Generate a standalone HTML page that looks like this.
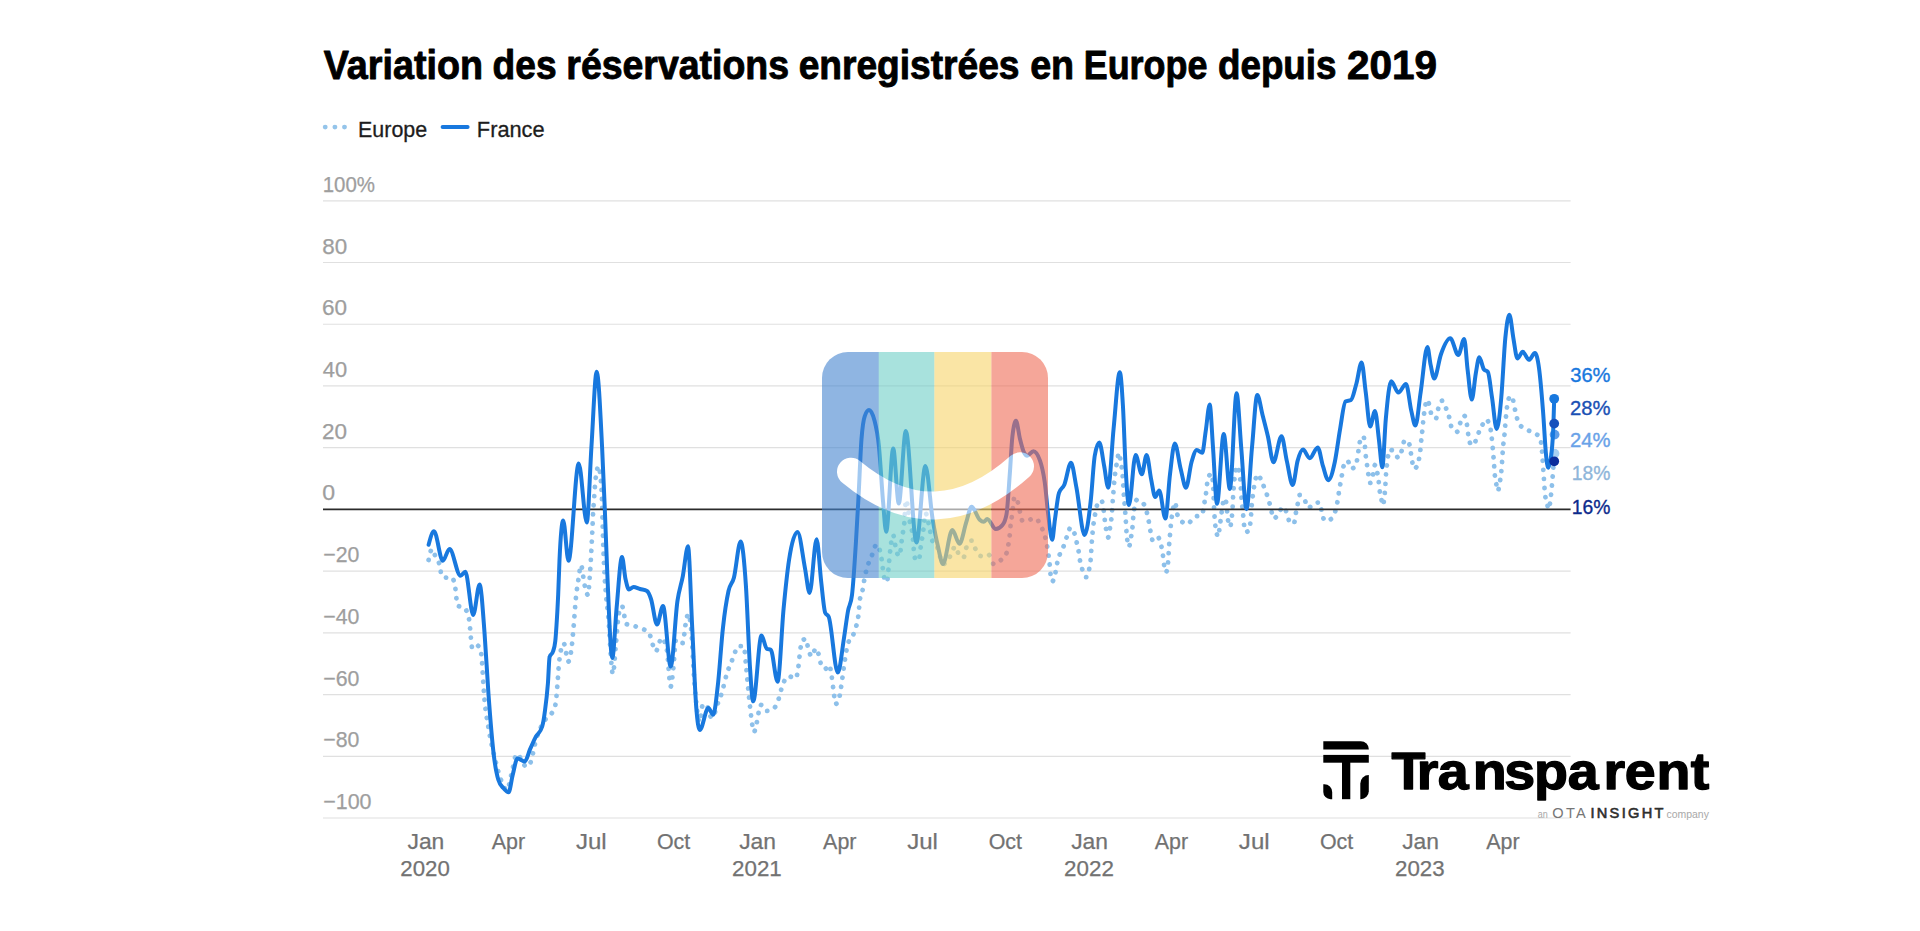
<!DOCTYPE html>
<html lang="fr">
<head>
<meta charset="utf-8">
<title>Variation des réservations enregistrées en Europe depuis 2019</title>
<style>
html,body{margin:0;padding:0;background:#fff;}
body{width:1920px;height:931px;overflow:hidden;font-family:"Liberation Sans", Arial, sans-serif;}
svg{display:block;}
text{font-family:"Liberation Sans", Arial, sans-serif;}
.title{font-weight:700;font-size:40.3px;fill:#000;}
.leg{font-size:22px;fill:#1d1d1d;stroke:#1d1d1d;stroke-width:0.3px;}
.yl{font-size:22px;fill:#9e9e9e;stroke:#9e9e9e;stroke-width:0.25px;}
.xl{font-size:21.8px;fill:#727272;stroke:#727272;stroke-width:0.25px;}
.el{font-size:20px;}
.lg{font-size:51px;font-weight:700;fill:#000;}
</style>
</head>
<body>
<svg width="1920" height="931" viewBox="0 0 1920 931">
<rect width="1920" height="931" fill="#ffffff"/>
<text y="78.5" class="title" stroke="#000" stroke-width="0.9" stroke-linejoin="round"><tspan x="323.76" textLength="159.20" lengthAdjust="spacingAndGlyphs">Variation</tspan> <tspan x="492.56" textLength="63.99" lengthAdjust="spacingAndGlyphs">des</tspan> <tspan x="566.32" textLength="222.74" lengthAdjust="spacingAndGlyphs">réservations</tspan> <tspan x="798.66" textLength="220.88" lengthAdjust="spacingAndGlyphs">enregistrées</tspan> <tspan x="1030.14" textLength="44.05" lengthAdjust="spacingAndGlyphs">en</tspan> <tspan x="1083.72" textLength="123.69" lengthAdjust="spacingAndGlyphs">Europe</tspan> <tspan x="1217.98" textLength="118.54" lengthAdjust="spacingAndGlyphs">depuis</tspan> <tspan x="1347.03" textLength="90.12" lengthAdjust="spacingAndGlyphs">2019</tspan></text>

<!-- legend -->
<g>
<circle cx="325.2" cy="127.1" r="2.45" fill="#94c4ea"/>
<circle cx="334.9" cy="127.1" r="2.45" fill="#94c4ea"/>
<circle cx="344.5" cy="127.1" r="2.45" fill="#94c4ea"/>
<text x="358.09" y="136.80" class="leg" textLength="69.07" lengthAdjust="spacingAndGlyphs">Europe</text>
<line x1="442.6" x2="467.6" y1="127.1" y2="127.1" stroke="#1878de" stroke-width="4" stroke-linecap="round"/>
<text x="476.86" y="136.80" class="leg" textLength="67.77" lengthAdjust="spacingAndGlyphs">France</text>
</g>

<!-- grid -->
<g>
<line x1="323" x2="1570.6" y1="200.80" y2="200.80" stroke="#e0e0e0" stroke-width="1.2"/>
<line x1="323" x2="1570.6" y1="262.52" y2="262.52" stroke="#e0e0e0" stroke-width="1.2"/>
<line x1="323" x2="1570.6" y1="324.24" y2="324.24" stroke="#e0e0e0" stroke-width="1.2"/>
<line x1="323" x2="1570.6" y1="385.96" y2="385.96" stroke="#e0e0e0" stroke-width="1.2"/>
<line x1="323" x2="1570.6" y1="447.68" y2="447.68" stroke="#e0e0e0" stroke-width="1.2"/>
<line x1="323" x2="1570.6" y1="571.12" y2="571.12" stroke="#e0e0e0" stroke-width="1.2"/>
<line x1="323" x2="1570.6" y1="632.84" y2="632.84" stroke="#e0e0e0" stroke-width="1.2"/>
<line x1="323" x2="1570.6" y1="694.56" y2="694.56" stroke="#e0e0e0" stroke-width="1.2"/>
<line x1="323" x2="1570.6" y1="756.28" y2="756.28" stroke="#e0e0e0" stroke-width="1.2"/>
<line x1="323" x2="1570.6" y1="818.00" y2="818.00" stroke="#e0e0e0" stroke-width="1.2"/>
</g>
<g>
<text x="322.67" y="191.80" class="yl" textLength="52.30" lengthAdjust="spacingAndGlyphs">100%</text>
<text x="322.19" y="253.52" class="yl" textLength="24.95" lengthAdjust="spacingAndGlyphs">80</text>
<text x="322.07" y="315.24" class="yl" textLength="25.07" lengthAdjust="spacingAndGlyphs">60</text>
<text x="322.76" y="376.96" class="yl" textLength="24.36" lengthAdjust="spacingAndGlyphs">40</text>
<text x="322.07" y="438.68" class="yl" textLength="25.07" lengthAdjust="spacingAndGlyphs">20</text>
<text x="322.27" y="500.40" class="yl" textLength="12.86" lengthAdjust="spacingAndGlyphs">0</text>
<text x="323.23" y="562.12" class="yl" textLength="36.14" lengthAdjust="spacingAndGlyphs">−20</text>
<text x="323.23" y="623.84" class="yl" textLength="36.14" lengthAdjust="spacingAndGlyphs">−40</text>
<text x="323.23" y="685.56" class="yl" textLength="36.14" lengthAdjust="spacingAndGlyphs">−60</text>
<text x="323.23" y="747.28" class="yl" textLength="36.14" lengthAdjust="spacingAndGlyphs">−80</text>
<text x="323.23" y="809.00" class="yl" textLength="48.33" lengthAdjust="spacingAndGlyphs">−100</text>
</g>
<g>
<text x="407.46" y="848.80" class="xl" textLength="36.88" lengthAdjust="spacingAndGlyphs">Jan</text>
<text x="400.39" y="875.80" class="xl" textLength="49.48" lengthAdjust="spacingAndGlyphs">2020</text>
<text x="491.70" y="848.80" class="xl" textLength="33.35" lengthAdjust="spacingAndGlyphs">Apr</text>
<text x="575.96" y="848.80" class="xl" textLength="30.76" lengthAdjust="spacingAndGlyphs">Jul</text>
<text x="656.91" y="848.80" class="xl" textLength="33.33" lengthAdjust="spacingAndGlyphs">Oct</text>
<text x="739.16" y="848.80" class="xl" textLength="36.88" lengthAdjust="spacingAndGlyphs">Jan</text>
<text x="732.08" y="875.80" class="xl" textLength="49.72" lengthAdjust="spacingAndGlyphs">2021</text>
<text x="823.10" y="848.80" class="xl" textLength="33.35" lengthAdjust="spacingAndGlyphs">Apr</text>
<text x="907.16" y="848.80" class="xl" textLength="30.76" lengthAdjust="spacingAndGlyphs">Jul</text>
<text x="988.66" y="848.80" class="xl" textLength="33.33" lengthAdjust="spacingAndGlyphs">Oct</text>
<text x="1071.16" y="848.80" class="xl" textLength="36.88" lengthAdjust="spacingAndGlyphs">Jan</text>
<text x="1064.08" y="875.80" class="xl" textLength="49.83" lengthAdjust="spacingAndGlyphs">2022</text>
<text x="1154.75" y="848.80" class="xl" textLength="33.35" lengthAdjust="spacingAndGlyphs">Apr</text>
<text x="1238.86" y="848.80" class="xl" textLength="30.76" lengthAdjust="spacingAndGlyphs">Jul</text>
<text x="1319.91" y="848.80" class="xl" textLength="33.33" lengthAdjust="spacingAndGlyphs">Oct</text>
<text x="1402.16" y="848.80" class="xl" textLength="36.88" lengthAdjust="spacingAndGlyphs">Jan</text>
<text x="1395.09" y="875.80" class="xl" textLength="49.60" lengthAdjust="spacingAndGlyphs">2023</text>
<text x="1486.30" y="848.80" class="xl" textLength="33.35" lengthAdjust="spacingAndGlyphs">Apr</text>
</g>

<!-- series -->
<path d="M428.6,560.0C429.7,554.5,430.9,549.0,432.0,549.0C433.3,549.0,434.7,555.2,436.0,558.0C437.3,560.8,438.7,560.7,440.0,566.0C440.5,568.0,441.0,575.7,441.5,576.0C443.3,577.1,445.2,577.7,447.0,577.7C448.6,577.7,450.1,577.5,451.7,577.5C452.8,577.5,453.9,580.3,455.0,586.0C455.9,590.5,456.7,605.0,457.6,605.6C459.8,607.2,462.1,606.4,464.3,608.0C465.9,609.1,467.4,611.7,469.0,619.0C470.1,624.3,471.3,648.6,472.4,648.6C474.0,648.6,475.6,645.4,477.2,645.4C478.5,645.4,479.7,647.8,481.0,652.7C482.2,657.2,483.3,687.5,484.5,699.7C485.8,713.7,487.2,719.8,488.5,728.0C490.7,741.4,492.8,749.9,495.0,758.8C497.0,767.0,499.0,774.8,501.0,780.0C503.0,785.2,505.0,790.0,507.0,790.0C508.4,790.0,509.9,780.3,511.3,775.0C513.1,768.4,514.9,754.0,516.7,754.0C520.0,754.0,523.3,766.8,526.6,766.8C528.2,766.8,529.9,764.5,531.5,760.0C532.3,757.7,533.2,751.7,534.0,748.0C538.0,730.4,542.0,724.9,546.0,718.5C548.5,714.5,551.0,715.8,553.5,710.4C554.3,708.6,555.2,707.3,556.0,701.0C556.5,697.2,557.0,689.8,557.5,683.5C558.0,677.2,558.5,668.6,559.0,663.4C559.4,659.3,559.8,656.4,560.2,654.0C561.4,646.9,562.5,643.3,563.7,643.3C565.2,643.3,566.8,661.5,568.3,661.5C569.5,661.5,570.6,655.9,571.8,646.0C572.4,640.9,573.0,633.9,573.6,627.0C574.3,618.5,575.1,606.6,575.8,599.0C576.7,589.7,577.6,584.6,578.5,578.8C579.3,573.4,580.2,565.0,581.0,565.0C582.1,565.0,583.3,579.1,584.4,584.0C585.6,589.2,586.8,595.0,588.0,595.0C588.6,595.0,589.2,584.1,589.8,576.0C590.7,564.2,591.5,548.6,592.4,529.4C592.7,523.5,592.9,515.4,593.2,510.6C593.5,505.8,593.7,504.5,594.0,500.6C594.2,497.7,594.4,493.9,594.6,491.0C594.9,487.1,595.1,483.8,595.4,481.0C595.8,476.5,596.3,474.0,596.7,471.6C597.3,468.1,598.0,466.2,598.6,466.2C599.2,466.2,599.9,470.7,600.5,477.0C600.8,479.7,601.0,481.9,601.3,486.4C601.6,490.9,601.8,495.1,602.1,503.8C602.3,509.2,602.4,517.4,602.6,523.5C602.9,534.5,603.2,544.0,603.5,552.2C603.9,564.0,604.4,571.7,604.8,579.0C605.2,585.7,605.6,590.3,606.0,595.0C606.7,602.9,607.3,606.9,608.0,613.7C609.6,630.4,611.3,674.0,612.9,674.0C613.9,674.0,615.0,653.6,616.0,643.0C616.9,633.4,617.9,618.2,618.8,613.7C619.9,608.6,620.9,606.0,622.0,606.0C623.4,606.0,624.9,623.3,626.3,624.0C628.7,625.2,631.1,625.1,633.5,625.8C636.2,626.6,638.9,627.2,641.6,628.5C644.0,629.7,646.5,630.0,648.9,633.0C651.2,635.8,653.5,651.3,655.8,651.3C657.8,651.3,659.7,638.0,661.7,638.0C663.4,638.0,665.0,641.7,666.7,649.0C668.0,654.9,669.4,686.5,670.7,686.5C671.6,686.5,672.5,675.7,673.4,667.7C674.3,660.0,675.1,639.5,676.0,639.5C678.3,639.5,680.5,643.0,682.8,643.0C683.7,643.0,684.6,629.6,685.5,624.8C686.4,620.0,687.3,614.0,688.2,614.0C689.4,614.0,690.5,621.2,691.7,635.5C692.3,643.3,693.0,660.5,693.6,670.4C694.4,683.0,695.2,692.1,696.0,700.0C697.2,711.5,698.3,722.0,699.5,722.0C700.7,722.0,701.8,704.0,703.0,704.0C704.3,704.0,705.7,704.7,707.0,706.0C708.5,707.5,710.1,718.0,711.6,718.0C714.1,718.0,716.5,706.3,719.0,700.0C720.1,697.2,721.2,695.2,722.3,691.4C723.0,688.9,723.8,685.4,724.5,682.5C725.3,679.2,726.2,675.7,727.0,673.0C728.1,669.3,729.3,667.4,730.4,664.5C731.6,661.6,732.7,658.5,733.9,655.6C735.2,652.3,736.6,646.2,737.9,646.2C739.9,646.2,741.8,646.2,743.8,646.2C744.5,646.2,745.3,657.9,746.0,665.0C746.7,671.5,747.3,679.7,748.0,686.5C748.9,696.1,749.9,706.1,750.8,713.4C751.9,721.8,752.9,732.0,754.0,732.0C754.9,732.0,755.8,726.3,756.7,722.8C758.0,717.7,759.4,704.8,760.7,704.8C762.5,704.8,764.2,711.0,766.0,711.0C768.4,711.0,770.9,710.3,773.3,708.8C774.9,707.8,776.6,705.3,778.2,700.5C779.1,697.8,780.0,693.6,780.9,690.6C781.8,687.6,782.7,684.6,783.6,682.5C785.4,678.4,787.2,676.3,789.0,676.3C791.2,676.3,793.4,678.5,795.6,678.5C796.5,678.5,797.4,674.0,798.3,667.7C798.9,663.2,799.6,654.7,800.2,650.3C800.9,645.3,801.7,642.0,802.4,641.0C803.5,639.5,804.7,638.7,805.8,638.7C806.6,638.7,807.5,646.3,808.3,649.0C809.5,652.8,810.6,656.4,811.8,656.4C813.1,656.4,814.5,648.4,815.8,648.4C816.9,648.4,817.9,651.9,819.0,655.6C819.7,658.1,820.5,663.5,821.2,665.0C822.5,667.7,823.9,669.0,825.2,669.0C826.5,669.0,827.9,665.0,829.2,665.0C829.9,665.0,830.7,669.9,831.4,674.4C831.8,677.1,832.3,680.4,832.7,683.8C833.1,687.2,833.6,691.3,834.0,694.6C834.5,698.1,834.9,704.0,835.4,704.0C836.5,704.0,837.5,703.1,838.6,701.3C839.2,700.2,839.9,694.4,840.5,690.6C841.0,687.6,841.5,684.6,842.0,681.0C842.4,678.2,842.8,674.7,843.2,671.8C844.8,660.1,846.4,648.9,848.0,643.6C849.6,638.2,851.3,639.3,852.9,635.5C853.9,633.1,855.0,630.9,856.0,627.0C856.7,624.2,857.5,622.5,858.2,617.0C858.8,612.5,859.4,603.3,860.0,599.0C860.9,592.3,861.9,593.9,862.8,589.0C863.3,586.5,863.7,583.0,864.2,580.4C864.9,576.5,865.6,573.3,866.3,570.5C867.2,566.9,868.1,564.5,869.0,562.0C870.3,558.5,871.5,556.3,872.8,553.3C874.0,550.5,875.1,544.5,876.3,544.5C877.6,544.5,879.0,547.0,880.3,552.0C880.8,553.9,881.3,557.4,881.8,560.5C882.6,565.6,883.5,575.5,884.3,578.0C885.2,580.7,886.1,582.0,887.0,582.0C887.6,582.0,888.3,570.2,888.9,564.0C889.4,558.8,890.0,552.3,890.5,548.0C891.4,540.7,892.3,535.0,893.2,535.0C893.8,535.0,894.4,540.9,895.0,543.8C895.7,547.0,896.3,551.5,897.0,553.0C897.9,555.0,898.7,556.0,899.6,556.0C900.1,556.0,900.7,549.1,901.2,545.0C901.6,542.2,901.9,538.5,902.3,535.8C902.9,531.7,903.4,531.5,904.0,526.4C904.7,520.4,905.3,500.0,906.0,500.0C907.5,500.0,908.9,517.9,910.4,525.0C911.1,528.4,911.8,528.3,912.5,534.4C913.0,538.5,913.4,546.4,913.9,550.6C914.5,555.9,915.1,560.5,915.7,560.5C916.9,560.5,918.0,559.9,919.2,558.6C919.7,558.1,920.1,551.3,920.6,547.9C921.5,541.4,922.4,537.1,923.3,530.4C924.0,525.2,924.7,513.0,925.4,513.0C926.9,513.0,928.5,523.3,930.0,530.4C930.6,533.3,931.3,538.2,931.9,539.8C933.5,543.9,935.1,543.0,936.7,546.0C938.9,550.2,941.2,564.0,943.4,564.0C945.2,564.0,947.0,561.0,948.8,558.6C951.0,555.6,953.3,546.5,955.5,546.5C956.8,546.5,958.2,555.2,959.5,556.0C960.9,556.9,962.2,557.3,963.6,557.3C964.5,557.3,965.3,550.2,966.2,547.9C968.0,543.0,969.8,540.6,971.6,540.6C972.9,540.6,974.3,546.8,975.6,549.2C977.4,552.4,979.2,556.0,981.0,556.0C983.5,556.0,986.0,554.6,988.5,554.6C990.2,554.6,991.9,564.0,993.6,564.0C996.1,564.0,998.5,562.3,1001.0,560.0C1002.8,558.3,1004.7,557.7,1006.5,553.2C1007.2,551.4,1008.0,547.3,1008.7,542.5C1009.1,540.1,1009.4,538.0,1009.8,534.4C1010.1,531.8,1010.3,527.6,1010.6,525.0C1011.1,520.4,1011.5,518.8,1012.0,515.6C1012.9,509.6,1013.7,496.8,1014.6,496.8C1015.7,496.8,1016.7,498.7,1017.8,502.2C1018.5,504.6,1019.3,509.1,1020.0,512.0C1020.9,515.5,1021.7,521.0,1022.6,521.0C1024.9,521.0,1027.1,520.2,1029.4,519.7C1031.4,519.3,1033.5,518.3,1035.5,518.3C1037.3,518.3,1039.2,522.7,1041.0,526.4C1042.2,528.9,1043.5,530.8,1044.7,535.3C1045.4,537.8,1046.1,540.5,1046.8,544.4C1047.3,547.0,1047.7,550.0,1048.2,553.2C1048.6,556.1,1049.1,558.3,1049.5,562.6C1049.8,565.3,1050.0,569.4,1050.3,572.0C1050.9,578.2,1051.6,581.5,1052.2,581.5C1053.3,581.5,1054.3,577.8,1055.4,572.9C1055.9,570.4,1056.5,566.6,1057.0,564.0C1057.9,559.7,1058.8,557.2,1059.7,554.6C1061.0,550.9,1062.2,549.7,1063.5,546.5C1064.7,543.5,1065.8,539.4,1067.0,536.3C1068.2,533.2,1069.3,527.7,1070.5,527.7C1071.7,527.7,1073.0,529.3,1074.2,532.6C1074.9,534.5,1075.7,538.1,1076.4,541.2C1077.1,544.1,1077.8,546.5,1078.5,550.6C1079.0,553.3,1079.4,557.3,1079.9,560.0C1080.7,564.5,1081.5,566.9,1082.3,569.4C1083.6,573.6,1085.0,577.2,1086.3,577.2C1087.3,577.2,1088.4,573.7,1089.4,567.8C1089.8,565.3,1090.3,563.8,1090.7,559.0C1091.1,554.2,1091.6,544.9,1092.0,539.3C1092.7,530.7,1093.3,525.3,1094.0,520.5C1094.5,516.7,1095.1,514.5,1095.6,512.0C1096.5,507.7,1097.4,502.3,1098.3,501.7C1099.4,501.0,1100.4,500.6,1101.5,500.6C1102.2,500.6,1102.9,504.7,1103.6,509.8C1104.0,512.5,1104.3,516.5,1104.7,519.4C1105.1,522.9,1105.6,526.0,1106.0,528.6C1106.7,533.0,1107.5,537.4,1108.2,537.4C1108.8,537.4,1109.4,531.6,1110.0,528.0C1110.5,525.2,1110.9,523.2,1111.4,518.6C1111.7,516.0,1111.9,512.9,1112.2,509.2C1112.4,506.4,1112.6,502.6,1112.8,499.8C1113.1,496.0,1113.3,493.3,1113.6,490.0C1113.9,486.7,1114.1,483.0,1114.4,480.2C1114.8,476.3,1115.1,473.7,1115.5,471.0C1116.0,467.3,1116.5,464.9,1117.0,462.2C1117.7,458.6,1118.3,452.8,1119.0,452.8C1119.6,452.8,1120.2,458.7,1120.8,462.2C1121.3,464.9,1121.7,466.5,1122.2,471.0C1122.5,473.6,1122.7,475.8,1123.0,480.2C1123.2,482.9,1123.3,487.2,1123.5,490.0C1123.8,494.5,1124.0,496.4,1124.3,499.8C1124.5,502.8,1124.8,506.1,1125.0,509.2C1125.2,512.3,1125.5,514.7,1125.7,518.6C1125.9,521.4,1126.0,525.3,1126.2,528.0C1126.5,532.3,1126.7,534.8,1127.0,537.4C1127.6,543.6,1128.3,546.8,1128.9,546.8C1129.6,546.8,1130.3,541.5,1131.0,537.4C1131.5,534.7,1131.9,532.9,1132.4,528.0C1132.7,525.2,1132.9,520.7,1133.2,517.8C1133.6,513.8,1133.9,511.1,1134.3,508.7C1135.2,502.8,1136.1,499.8,1137.0,499.8C1139.3,499.8,1141.7,501.3,1144.0,504.4C1145.0,505.7,1146.0,509.0,1147.0,513.0C1147.7,515.7,1148.3,519.0,1149.0,522.6C1149.5,525.5,1150.1,529.3,1150.6,532.0C1151.4,536.0,1152.2,541.0,1153.0,541.0C1154.7,541.0,1156.3,537.4,1158.0,537.4C1159.0,537.4,1160.0,540.5,1161.0,544.7C1161.6,547.1,1162.1,549.4,1162.7,553.5C1163.1,556.2,1163.4,560.4,1163.8,563.0C1164.5,568.3,1165.3,572.3,1166.0,572.3C1166.7,572.3,1167.3,569.2,1168.0,563.0C1168.2,561.1,1168.4,556.7,1168.6,553.5C1168.8,550.3,1169.0,546.8,1169.2,544.0C1169.5,540.3,1169.7,537.8,1170.0,534.7C1170.3,531.6,1170.5,528.1,1170.8,525.3C1171.2,521.5,1171.5,518.7,1171.9,516.0C1172.4,512.0,1173.0,508.7,1173.5,506.5C1174.1,503.8,1174.8,502.5,1175.4,502.5C1175.8,502.5,1176.3,510.2,1176.7,512.0C1178.0,517.7,1179.4,519.1,1180.7,520.5C1182.9,522.8,1185.2,524.0,1187.4,524.0C1189.6,524.0,1191.8,518.7,1194.0,517.3C1196.7,515.5,1199.5,516.4,1202.2,514.6C1202.8,514.2,1203.4,508.2,1204.0,505.0C1204.6,502.0,1205.1,499.9,1205.7,495.8C1206.1,493.1,1206.4,489.1,1206.8,486.4C1207.3,482.4,1207.9,478.1,1208.4,477.0C1209.5,474.9,1210.5,473.8,1211.6,473.8C1212.1,473.8,1212.5,477.1,1213.0,483.7C1213.2,486.1,1213.3,488.5,1213.5,493.0C1213.6,495.7,1213.7,499.8,1213.8,502.5C1214.0,507.0,1214.1,509.5,1214.3,512.4C1214.5,516.4,1214.8,519.3,1215.0,522.0C1215.4,526.6,1215.8,529.1,1216.2,531.2C1216.9,534.8,1217.6,536.6,1218.3,536.6C1218.8,536.6,1219.2,530.0,1219.7,526.7C1220.1,523.6,1220.6,520.5,1221.0,517.3C1221.5,513.9,1221.9,509.9,1222.4,507.0C1223.0,503.3,1223.6,498.5,1224.2,498.5C1224.9,498.5,1225.7,500.1,1226.4,503.3C1226.7,504.5,1226.9,509.7,1227.2,512.4C1227.6,516.2,1227.9,520.0,1228.3,522.0C1228.9,525.1,1229.4,526.7,1230.0,526.7C1230.6,526.7,1231.2,523.1,1231.8,517.3C1232.1,514.7,1232.3,513.3,1232.6,508.0C1232.7,505.4,1232.9,501.2,1233.0,498.5C1233.2,494.4,1233.4,491.8,1233.6,489.0C1233.9,485.3,1234.1,482.4,1234.4,479.7C1235.3,470.9,1236.1,466.2,1237.0,466.2C1237.9,466.2,1238.9,469.3,1239.8,475.6C1240.1,477.4,1240.3,481.3,1240.6,485.0C1240.8,487.8,1241.0,491.6,1241.2,494.4C1241.5,498.1,1241.7,500.9,1242.0,503.8C1242.3,507.4,1242.7,509.6,1243.0,513.2C1243.3,516.1,1243.5,520.3,1243.8,522.6C1244.5,528.9,1245.3,532.0,1246.0,532.0C1247.1,532.0,1248.1,531.3,1249.2,530.0C1249.7,529.4,1250.1,525.1,1250.6,520.5C1251.1,515.9,1251.5,507.3,1252.0,502.5C1252.4,498.4,1252.8,495.9,1253.2,493.0C1253.7,489.6,1254.1,486.3,1254.6,483.7C1255.7,477.8,1256.7,474.3,1257.8,474.3C1259.2,474.3,1260.6,479.4,1262.0,482.4C1263.3,485.2,1264.6,488.2,1265.9,491.8C1266.9,494.5,1267.8,497.2,1268.8,500.6C1269.6,503.4,1270.4,506.7,1271.2,509.8C1271.9,512.7,1272.7,518.6,1273.4,518.6C1275.0,518.6,1276.6,516.6,1278.2,514.6C1279.7,512.7,1281.3,507.0,1282.8,507.0C1284.3,507.0,1285.9,510.4,1287.4,514.6C1288.3,516.9,1289.1,523.2,1290.0,523.2C1291.3,523.2,1292.7,523.2,1294.0,523.2C1294.6,523.2,1295.1,517.0,1295.7,514.0C1296.3,510.7,1297.0,507.4,1297.6,504.4C1298.3,501.1,1299.0,495.0,1299.7,495.0C1301.2,495.0,1302.8,496.6,1304.3,499.0C1305.6,501.1,1307.0,507.9,1308.3,507.9C1310.3,507.9,1312.2,503.9,1314.2,503.3C1316.0,502.8,1317.8,502.5,1319.6,502.5C1320.3,502.5,1321.0,508.8,1321.7,511.4C1322.7,515.1,1323.6,520.5,1324.6,520.5C1326.4,520.5,1328.2,520.2,1330.0,519.6C1331.7,519.0,1333.3,517.1,1335.0,512.2C1335.8,509.8,1336.6,506.4,1337.4,502.0C1337.9,499.4,1338.3,496.2,1338.8,493.3C1339.3,490.2,1339.8,486.9,1340.3,484.0C1340.9,480.7,1341.4,477.9,1342.0,474.8C1342.5,471.9,1343.1,467.5,1343.6,466.0C1344.9,462.4,1346.1,460.6,1347.4,460.6C1348.7,460.6,1350.1,468.6,1351.4,468.6C1352.8,468.6,1354.1,467.7,1355.5,466.0C1356.2,465.1,1356.9,461.2,1357.6,457.0C1358.1,454.2,1358.5,449.9,1359.0,447.0C1359.6,443.3,1360.2,439.1,1360.8,438.3C1361.7,437.0,1362.6,436.4,1363.5,436.4C1364.0,436.4,1364.4,441.2,1364.9,445.8C1365.2,448.4,1365.4,452.5,1365.7,455.2C1366.1,459.5,1366.6,461.5,1367.0,464.6C1367.4,467.7,1367.9,471.3,1368.3,474.0C1368.9,477.9,1369.6,482.9,1370.2,482.9C1371.1,482.9,1372.0,478.3,1372.9,474.8C1373.6,472.0,1374.3,465.0,1375.0,465.0C1375.7,465.0,1376.3,468.2,1377.0,471.3C1377.5,473.8,1378.1,476.4,1378.6,480.7C1378.9,483.4,1379.3,487.4,1379.6,490.0C1380.1,494.1,1380.7,495.7,1381.2,498.2C1381.8,501.0,1382.4,505.4,1383.0,505.4C1383.5,505.4,1384.0,500.3,1384.5,495.5C1384.8,493.0,1385.0,490.8,1385.3,486.6C1385.5,484.0,1385.6,479.9,1385.8,477.2C1386.1,472.9,1386.3,470.5,1386.6,467.8C1387.0,464.0,1387.3,461.2,1387.7,458.7C1388.4,453.9,1389.1,449.8,1389.8,449.8C1391.2,449.8,1392.5,450.3,1393.9,451.2C1395.4,452.2,1396.9,457.9,1398.4,457.9C1399.6,457.9,1400.8,453.5,1402.0,449.8C1402.9,447.2,1403.7,440.4,1404.6,440.4C1405.9,440.4,1407.3,440.9,1408.6,441.8C1409.2,442.2,1409.9,447.0,1410.5,450.6C1411.0,453.3,1411.4,457.2,1411.9,459.8C1412.6,463.7,1413.3,468.6,1414.0,468.6C1415.1,468.6,1416.1,467.7,1417.2,466.0C1417.9,464.8,1418.7,461.0,1419.4,456.5C1419.8,453.8,1420.3,451.3,1420.7,447.0C1421.0,444.3,1421.2,440.5,1421.5,437.7C1421.9,433.9,1422.2,432.1,1422.6,428.3C1422.9,425.5,1423.1,421.6,1423.4,419.0C1423.9,414.4,1424.3,412.4,1424.8,409.5C1425.4,405.8,1426.0,400.0,1426.6,400.0C1427.6,400.0,1428.6,402.3,1429.6,406.0C1430.2,408.3,1430.9,414.0,1431.5,415.0C1433.0,417.3,1434.5,418.4,1436.0,418.4C1436.7,418.4,1437.5,411.3,1438.2,408.7C1439.5,404.0,1440.9,400.7,1442.2,400.7C1443.5,400.7,1444.9,405.3,1446.2,408.7C1447.3,411.5,1448.4,414.2,1449.5,418.4C1450.2,421.1,1450.9,426.4,1451.6,427.5C1453.4,430.4,1455.2,431.8,1457.0,431.8C1458.1,431.8,1459.1,425.5,1460.2,423.0C1461.5,419.9,1462.9,415.7,1464.2,415.7C1465.1,415.7,1466.1,418.8,1467.0,424.8C1467.4,427.6,1467.9,432.2,1468.3,435.0C1469.0,439.5,1469.7,442.9,1470.4,443.6C1471.5,444.7,1472.5,445.2,1473.6,445.2C1474.7,445.2,1475.9,439.1,1477.0,436.4C1478.4,433.1,1479.8,430.2,1481.2,427.5C1482.8,424.4,1484.4,419.5,1486.0,419.5C1487.3,419.5,1488.5,421.5,1489.8,425.6C1490.3,427.3,1490.9,430.7,1491.4,435.0C1491.7,437.7,1492.1,440.8,1492.4,444.4C1492.7,447.3,1492.9,450.7,1493.2,453.8C1493.5,456.9,1493.7,459.5,1494.0,463.2C1494.2,466.0,1494.4,470.0,1494.6,472.6C1495.1,478.7,1495.5,479.2,1496.0,482.0C1496.6,485.6,1497.2,491.0,1497.8,491.0C1498.5,491.0,1499.3,485.7,1500.0,481.2C1500.4,478.6,1500.9,476.8,1501.3,472.0C1501.5,469.4,1501.8,466.1,1502.0,462.7C1502.2,459.8,1502.4,456.1,1502.6,453.3C1502.9,449.5,1503.1,446.4,1503.4,443.6C1503.8,439.7,1504.1,438.4,1504.5,434.5C1504.8,431.7,1505.0,428.0,1505.3,424.8C1505.6,421.6,1505.8,418.2,1506.1,415.4C1506.5,411.6,1506.8,408.6,1507.2,406.0C1507.9,400.9,1508.7,398.2,1509.4,397.4C1510.3,396.5,1511.1,396.0,1512.0,396.0C1512.7,396.0,1513.3,402.0,1514.0,405.0C1514.7,408.0,1515.3,411.3,1516.0,414.0C1516.9,417.8,1517.9,422.0,1518.8,423.5C1521.0,427.2,1523.3,427.5,1525.5,429.0C1528.3,430.9,1531.2,431.2,1534.0,433.0C1535.9,434.2,1537.8,434.4,1539.7,437.2C1540.3,438.1,1541.0,440.7,1541.6,447.0C1541.9,449.6,1542.1,452.7,1542.4,456.5C1542.6,459.3,1542.8,463.1,1543.0,466.0C1543.2,469.4,1543.5,471.9,1543.7,475.3C1543.9,478.2,1544.1,481.8,1544.3,484.7C1544.5,488.1,1544.8,491.8,1545.0,494.0C1545.7,500.3,1546.3,500.9,1547.0,503.5C1547.6,505.8,1548.2,509.0,1548.8,509.0C1549.4,509.0,1549.9,504.1,1550.5,499.5C1550.8,496.8,1551.2,493.4,1551.5,490.0C1551.8,487.2,1552.0,484.4,1552.3,481.2C1552.5,478.4,1552.8,475.2,1553.0,472.0C1553.4,466.4,1553.8,460.1,1554.2,453.8" fill="none" stroke="#8dc0ea" stroke-width="4.8" stroke-linecap="round" stroke-linejoin="round" stroke-dasharray="0.1 9"/>
<line x1="323" x2="1570.6" y1="509.4" y2="509.4" stroke="#2b2b2b" stroke-width="1.7"/>
<circle cx="1554.5" cy="453.6" r="4.9" fill="#a9d0f2"/>
<circle cx="1554.6" cy="434.6" r="4.9" fill="#5f9de8"/>
<path d="M428.6,544.7C430.4,538.0,432.2,531.2,434.0,531.2C436.9,531.2,439.9,560.8,442.8,560.8C445.0,560.8,447.3,549.0,449.5,549.0C453.2,549.0,456.8,575.7,460.5,575.7C462.1,575.7,463.7,571.7,465.3,571.7C467.9,571.7,470.6,615.0,473.2,615.0C475.3,615.0,477.5,584.4,479.6,584.4C481.2,584.4,482.9,611.4,484.5,632.5C485.8,649.7,487.2,676.0,488.5,694.3C490.3,719.0,492.1,741.4,493.9,756.0C495.4,768.2,496.9,775.1,498.4,780.0C500.0,785.3,501.7,786.0,503.3,788.0C505.1,790.2,506.8,792.3,508.6,792.3C510.0,792.3,511.3,780.3,512.7,775.0C514.3,768.8,515.9,758.5,517.5,758.5C519.9,758.5,522.4,761.5,524.8,761.5C526.5,761.5,528.3,753.3,530.0,749.4C531.8,745.2,533.7,740.8,535.5,737.3C537.7,733.0,540.0,733.7,542.2,726.5C543.1,723.5,544.1,717.4,545.0,710.4C546.0,703.2,546.9,696.6,547.9,683.7C548.5,676.2,549.0,658.8,549.6,657.0C550.7,653.3,551.9,655.2,553.0,651.5C553.8,649.0,554.5,648.0,555.3,641.0C555.7,637.3,556.1,631.4,556.5,625.3C557.1,616.7,557.6,607.4,558.2,594.4C558.6,584.5,559.1,569.3,559.5,560.0C560.7,533.7,562.0,520.5,563.2,520.5C565.0,520.5,566.7,560.8,568.5,560.8C571.9,560.8,575.3,463.6,578.7,463.6C581.4,463.6,584.1,522.6,586.8,522.6C588.3,522.6,589.9,471.0,591.4,447.4C593.2,420.2,594.9,371.7,596.7,371.7C598.5,371.7,600.3,411.5,602.1,447.4C603.0,465.3,603.9,487.2,604.8,509.2C605.6,528.7,606.4,552.6,607.2,571.0C608.9,610.0,610.6,658.0,612.3,658.0C613.7,658.0,615.2,623.3,616.6,608.0C618.4,588.8,620.2,557.0,622.0,557.0C623.2,557.0,624.3,573.6,625.5,579.0C626.7,584.4,627.8,589.5,629.0,589.5C630.5,589.5,632.0,587.0,633.5,587.0C635.7,587.0,637.8,588.4,640.0,589.0C642.3,589.7,644.7,589.7,647.0,591.0C648.3,591.8,649.7,595.1,651.0,599.0C653.0,604.8,655.0,624.5,657.0,624.5C659.0,624.5,661.0,606.0,663.0,606.0C665.6,606.0,668.1,666.4,670.7,666.4C673.0,666.4,675.2,616.0,677.5,600.6C679.3,588.6,681.0,585.6,682.8,576.4C684.5,567.4,686.3,546.3,688.0,546.3C689.4,546.3,690.8,600.1,692.2,627.4C693.6,654.0,694.9,691.0,696.3,708.0C697.5,722.5,698.6,730.0,699.8,730.0C702.6,730.0,705.5,708.0,708.3,708.0C709.9,708.0,711.6,714.7,713.2,714.7C714.7,714.7,716.2,699.3,717.7,686.5C719.5,671.5,721.2,643.2,723.0,627.4C724.8,611.0,726.7,599.3,728.5,591.0C730.3,582.9,732.1,584.5,733.9,577.7C736.1,569.3,738.4,541.5,740.6,541.5C742.4,541.5,744.2,559.7,746.0,587.0C747.3,607.2,748.7,648.0,750.0,667.7C751.1,683.5,752.1,701.3,753.2,701.3C756.0,701.3,758.7,635.5,761.5,635.5C763.3,635.5,765.1,648.3,766.9,649.0C768.2,649.5,769.4,649.2,770.7,649.7C773.0,650.5,775.3,681.7,777.6,681.7C779.6,681.7,781.6,629.6,783.6,608.6C785.4,589.7,787.2,572.3,789.0,560.3C791.8,541.4,794.7,532.0,797.5,532.0C800.0,532.0,802.5,555.4,805.0,568.3C806.5,576.2,808.1,593.0,809.6,593.0C811.9,593.0,814.3,539.3,816.6,539.3C818.1,539.3,819.7,568.9,821.2,581.8C822.5,593.0,823.9,609.7,825.2,612.7C826.4,615.4,827.5,614.0,828.7,616.7C831.7,623.6,834.8,672.6,837.8,672.6C839.9,672.6,841.9,651.0,844.0,638.0C845.3,629.6,846.7,618.2,848.0,611.0C849.3,603.8,850.7,605.7,852.0,595.0C853.3,584.3,854.7,562.3,856.0,541.0C856.8,528.8,857.5,515.0,858.3,501.0C859.4,481.6,860.4,453.1,861.5,439.0C862.6,424.9,863.6,419.4,864.7,416.3C866.1,412.1,867.6,410.0,869.0,410.0C870.8,410.0,872.6,413.4,874.4,420.3C875.9,426.1,877.5,431.8,879.0,447.0C880.3,460.2,881.7,485.9,883.0,501.0C884.1,513.1,885.1,531.8,886.2,531.8C888.5,531.8,890.9,448.5,893.2,448.5C895.1,448.5,896.9,503.5,898.8,503.5C901.1,503.5,903.5,431.0,905.8,431.0C909.4,431.0,912.9,542.5,916.5,542.5C919.5,542.5,922.4,466.0,925.4,466.0C927.8,466.0,930.3,505.0,932.7,519.7C934.5,530.3,936.2,538.9,938.0,546.5C939.6,553.5,941.3,564.0,942.9,564.0C946.0,564.0,949.2,530.0,952.3,530.0C954.7,530.0,957.1,543.8,959.5,543.8C961.7,543.8,964.0,529.2,966.2,522.4C968.0,517.0,969.8,506.8,971.6,506.8C974.3,506.8,977.0,517.3,979.7,519.7C981.0,520.9,982.4,521.8,983.7,521.8C984.9,521.8,986.0,519.0,987.2,519.0C990.1,519.0,992.9,529.0,995.8,529.0C998.0,529.0,1000.3,527.7,1002.5,525.0C1003.8,523.4,1005.2,521.4,1006.5,514.3C1007.6,508.4,1008.7,488.8,1009.8,474.0C1010.7,462.3,1011.5,443.9,1012.4,436.4C1013.6,426.0,1014.8,420.8,1016.0,420.8C1017.3,420.8,1018.7,433.7,1020.0,439.0C1021.3,444.3,1022.7,449.8,1024.0,452.5C1025.1,454.6,1026.1,455.7,1027.2,455.7C1029.3,455.7,1031.3,451.2,1033.4,451.2C1035.6,451.2,1037.8,454.3,1040.0,460.6C1041.6,465.1,1043.1,470.7,1044.7,482.0C1045.9,490.4,1047.0,505.1,1048.2,514.3C1049.5,524.8,1050.9,539.8,1052.2,539.8C1053.1,539.8,1054.0,526.1,1054.9,519.7C1056.3,510.0,1057.6,496.9,1059.0,492.8C1060.8,487.5,1062.5,488.9,1064.3,484.8C1066.5,479.7,1068.8,462.7,1071.0,462.7C1072.8,462.7,1074.6,478.3,1076.4,487.4C1079.1,501.2,1081.9,535.0,1084.6,535.0C1086.6,535.0,1088.7,519.1,1090.7,501.0C1092.1,488.9,1093.4,463.3,1094.8,455.5C1096.3,446.9,1097.8,442.6,1099.3,442.6C1100.9,442.6,1102.6,457.8,1104.2,466.2C1105.5,473.0,1106.9,487.7,1108.2,487.7C1110.0,487.7,1111.8,446.8,1113.6,428.6C1115.7,407.8,1117.7,372.2,1119.8,372.2C1120.9,372.2,1121.9,388.4,1123.0,407.0C1123.9,422.7,1124.8,453.2,1125.7,469.0C1126.8,487.8,1127.8,505.0,1128.9,505.0C1131.1,505.0,1133.4,455.0,1135.6,455.0C1137.7,455.0,1139.7,474.3,1141.8,474.3C1143.4,474.3,1145.0,455.0,1146.6,455.0C1148.1,455.0,1149.7,472.3,1151.2,479.7C1152.5,486.1,1153.9,497.0,1155.2,497.0C1156.5,497.0,1157.9,490.4,1159.2,490.4C1161.3,490.4,1163.3,518.6,1165.4,518.6C1166.9,518.6,1168.5,486.7,1170.0,474.3C1171.6,461.4,1173.2,443.4,1174.8,443.4C1176.8,443.4,1178.7,461.3,1180.7,469.0C1182.5,475.9,1184.2,487.7,1186.0,487.7C1187.8,487.7,1189.7,468.5,1191.5,462.2C1193.3,456.1,1195.0,450.0,1196.8,450.0C1198.6,450.0,1200.4,452.8,1202.2,452.8C1203.4,452.8,1204.5,438.8,1205.7,431.3C1207.0,422.8,1208.4,404.5,1209.7,404.5C1210.8,404.5,1211.9,432.6,1213.0,447.4C1214.3,465.4,1215.7,503.8,1217.0,503.8C1219.2,503.8,1221.5,434.0,1223.7,434.0C1225.8,434.0,1227.8,489.0,1229.9,489.0C1232.1,489.0,1234.4,393.2,1236.6,393.2C1238.1,393.2,1239.7,429.4,1241.2,447.4C1243.0,468.1,1244.7,509.2,1246.5,509.2C1248.3,509.2,1250.2,466.7,1252.0,447.4C1253.8,428.8,1255.5,395.0,1257.3,395.0C1259.1,395.0,1260.8,408.3,1262.6,415.2C1264.4,422.2,1266.2,428.9,1268.0,436.7C1269.8,444.5,1271.6,462.2,1273.4,462.2C1276.1,462.2,1278.8,436.2,1281.5,436.2C1283.3,436.2,1285.0,453.1,1286.8,460.9C1288.8,469.5,1290.7,485.0,1292.7,485.0C1294.3,485.0,1296.0,466.7,1297.6,460.9C1299.4,454.5,1301.2,449.6,1303.0,449.6C1305.2,449.6,1307.5,458.2,1309.7,458.2C1312.4,458.2,1315.0,447.4,1317.7,447.4C1319.5,447.4,1321.2,460.7,1323.0,466.2C1324.8,471.7,1326.5,480.2,1328.3,480.2C1330.5,480.2,1332.6,472.2,1334.8,462.0C1336.5,453.9,1338.3,439.6,1340.0,429.7C1341.8,419.3,1343.7,402.5,1345.5,401.5C1347.3,400.5,1349.2,401.0,1351.0,400.0C1352.8,399.0,1354.5,390.2,1356.3,384.0C1358.1,377.8,1359.8,362.5,1361.6,362.5C1363.0,362.5,1364.3,381.9,1365.7,392.0C1367.2,403.1,1368.7,426.4,1370.2,426.4C1371.8,426.4,1373.4,411.0,1375.0,411.0C1376.3,411.0,1377.7,430.0,1379.0,440.4C1380.1,449.0,1381.2,467.3,1382.3,467.3C1383.5,467.3,1384.6,432.0,1385.8,419.0C1387.6,399.0,1389.4,381.3,1391.2,381.3C1393.6,381.3,1396.0,392.6,1398.4,392.6C1400.9,392.6,1403.5,384.0,1406.0,384.0C1407.8,384.0,1409.5,403.4,1411.3,410.9C1412.7,416.7,1414.0,425.6,1415.4,425.6C1417.2,425.6,1418.9,403.5,1420.7,392.0C1422.9,377.5,1425.2,347.0,1427.4,347.0C1428.5,347.0,1429.6,360.0,1430.7,365.2C1431.9,370.7,1433.0,378.6,1434.2,378.6C1436.4,378.6,1438.7,360.8,1440.9,354.5C1444.0,345.7,1447.2,338.3,1450.3,338.3C1453.0,338.3,1455.6,355.0,1458.3,355.0C1460.3,355.0,1462.2,338.9,1464.2,338.9C1465.4,338.9,1466.5,361.1,1467.7,370.6C1469.1,381.7,1470.4,399.6,1471.8,399.6C1473.1,399.6,1474.5,380.7,1475.8,373.3C1477.0,366.9,1478.1,357.2,1479.3,357.2C1480.8,357.2,1482.3,367.2,1483.8,369.2C1485.2,371.1,1486.5,370.1,1487.9,372.0C1489.3,373.9,1490.6,388.6,1492.0,397.4C1493.6,407.5,1495.1,429.0,1496.7,429.0C1498.2,429.0,1499.8,414.4,1501.3,397.4C1502.6,382.6,1504.0,352.1,1505.3,338.3C1506.7,324.2,1508.0,314.7,1509.4,314.7C1510.7,314.7,1512.1,331.0,1513.4,338.3C1514.7,345.6,1516.1,358.5,1517.4,358.5C1519.2,358.5,1521.0,351.8,1522.8,351.8C1524.9,351.8,1526.9,359.8,1529.0,359.8C1531.0,359.8,1532.9,353.0,1534.9,353.0C1536.3,353.0,1537.6,358.1,1539.0,368.0C1540.3,377.6,1541.7,394.0,1543.0,410.9C1544.1,424.4,1545.1,446.9,1546.2,456.5C1546.9,462.5,1547.5,467.8,1548.2,467.8C1549.3,467.8,1550.5,462.5,1551.6,452.0C1552.2,446.4,1552.8,441.4,1553.4,425.0C1553.7,417.7,1553.9,408.3,1554.2,398.8" fill="none" stroke="#1878de" stroke-width="4" stroke-linecap="round" stroke-linejoin="round"/>

<!-- end points -->
<circle cx="1554.2" cy="398.8" r="4.9" fill="#1878de"/>
<circle cx="1554.2" cy="423.6" r="4.9" fill="#1750bc"/>
<circle cx="1554.2" cy="461.3" r="4.9" fill="#0b2c9c"/>
<text x="1570.19" y="381.50" class="el" textLength="40.34" lengthAdjust="spacingAndGlyphs" fill="#1878de" stroke="#1878de" stroke-width="0.35">36%</text>
<text x="1569.99" y="415.20" class="el" textLength="40.55" lengthAdjust="spacingAndGlyphs" fill="#1a50b4" stroke="#1a50b4" stroke-width="0.35">28%</text>
<text x="1569.99" y="446.80" class="el" textLength="40.55" lengthAdjust="spacingAndGlyphs" fill="#69a2e8" stroke="#69a2e8" stroke-width="0.35">24%</text>
<text x="1571.85" y="480.00" class="el" textLength="38.65" lengthAdjust="spacingAndGlyphs" fill="#8fb6da" stroke="#8fb6da" stroke-width="0.35">18%</text>
<text x="1571.85" y="513.80" class="el" textLength="38.65" lengthAdjust="spacingAndGlyphs" fill="#0c2a8c" stroke="#0c2a8c" stroke-width="0.35">16%</text>

<!-- watermark -->
<g opacity="0.6">
<clipPath id="wm"><rect x="822" y="352" width="226" height="226" rx="26" ry="26"/></clipPath>
<g clip-path="url(#wm)">
<rect x="822" y="352" width="57" height="226" fill="#4585d0"/>
<rect x="878.7" y="352" width="56" height="226" fill="#6fcfc8"/>
<rect x="934.4" y="352" width="57.2" height="226" fill="#f7d56b"/>
<rect x="991.4" y="352" width="57" height="226" fill="#f06c56"/>
</g>
<path d="M851,471.7 Q935.5,542 1020,466.3" fill="none" stroke="#ffffff" stroke-width="28" stroke-linecap="round"/>
</g>

<!-- logo -->
<g fill="#000000">
<path d="M1323.3,741.2 H1360.8 A8,8 0 0 1 1368.8,749.2 V749.4 H1323.3 Z"/>
<rect x="1323.3" y="754.9" width="45.5" height="7.8"/>
<rect x="1342" y="762" width="8.3" height="37.2"/>
<path d="M1323.3,784.3 H1324.4 A7.8,7.8 0 0 1 1332.2,792.1 V799.2 H1330.6 A7.3,7.3 0 0 1 1323.3,791.9 Z"/>
<path d="M1368.8,775.1 V791.2 A8,8 0 0 1 1360.8,799.2 H1360.3 V783.6 A8.5,8.5 0 0 1 1368.8,775.1 Z"/>
<g transform="translate(1392,0) scale(1.090,1)"><text x="-0.51 22.72 41.94 74.00 103.04 130.23 161.25 194.15 213.56 242.57 274.11" y="788.9" class="lg" stroke="#000" stroke-width="1.3" stroke-linejoin="round">Transparent</text></g>
</g>
<text x="1537.8" y="818" font-size="10.5" fill="#a8a8a8" textLength="10" lengthAdjust="spacingAndGlyphs">an</text>
<text x="1552.3" y="818" font-size="14.6" fill="#767676" textLength="33.5" lengthAdjust="spacing">OTA</text>
<text x="1590.4" y="818" font-size="14.6" fill="#2e2e2e" stroke="#2e2e2e" stroke-width="0.6" textLength="73" lengthAdjust="spacing">INSIGHT</text>
<text x="1666.4" y="818" font-size="10.5" fill="#a8a8a8" textLength="42.5" lengthAdjust="spacingAndGlyphs">company</text>
</svg>
</body>
</html>
